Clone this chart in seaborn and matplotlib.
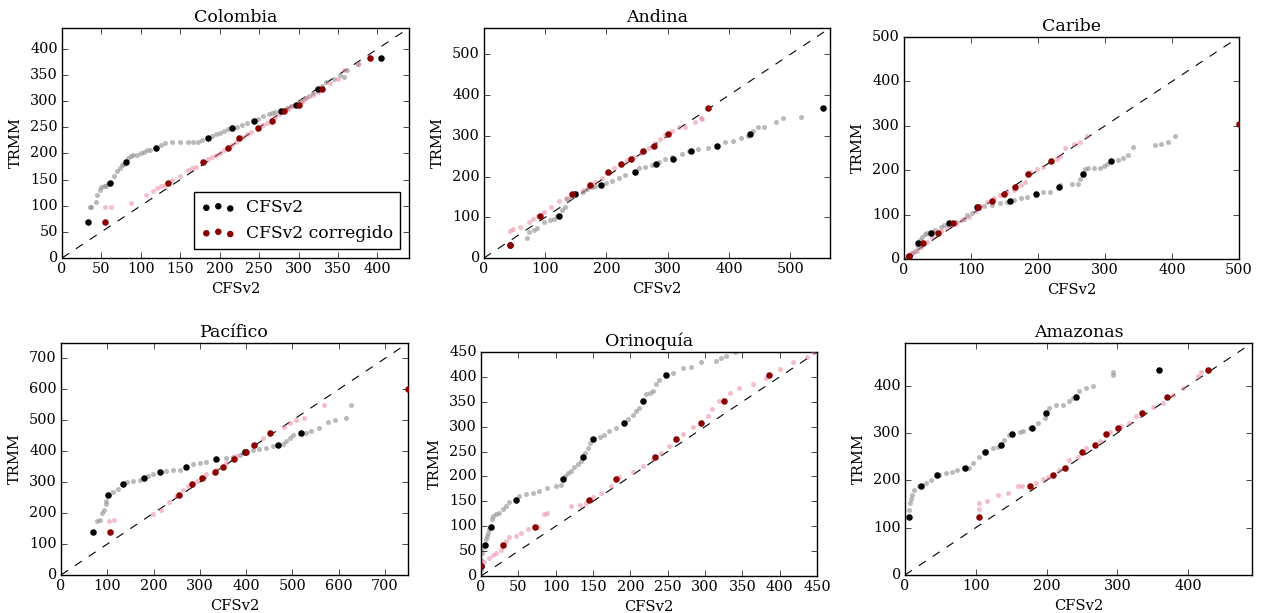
import numpy as np
import matplotlib
matplotlib.use("Agg")
import matplotlib.pyplot as plt
import seaborn as sns

# ---------------- data ----------------
regions = ["Colombia", "Andina", "Caribe", "Pacífico", "Orinoquía", "Amazonas"]

# Colombia
col_gray_x = [35, 37, 43, 45, 48, 50, 53, 56, 58, 66, 70, 74, 76, 78, 84, 88, 90, 95, 100, 104, 108, 112, 126, 131, 140, 150, 160, 166, 172, 178, 190, 195, 200, 205, 210, 222, 228, 235, 248, 255, 262, 266, 270, 285, 290, 303, 308, 313, 318, 330, 335, 345, 352, 357, 362, 375]
col_gray_y = [97, 97, 107, 120, 130, 135, 137, 138, 141, 157, 167, 173, 178, 180, 192, 196, 197, 198, 200, 203, 206, 207, 217, 220, 221, 221, 221, 221, 222, 226, 234, 237, 240, 243, 247, 251, 254, 258, 266, 272, 276, 278, 280, 287, 290, 300, 306, 310, 315, 330, 337, 343, 350, 347, 360, 371]
col_pink_x = [55, 62, 88, 107, 115, 120, 125, 130, 140, 150, 160, 165, 170, 185, 190, 195, 200, 205, 215, 220, 230, 235, 240, 255, 260, 270, 275, 286, 292, 305, 310, 318, 324, 340, 350, 358, 375]
col_pink_y = [97, 97, 106, 120, 128, 134, 137, 140, 150, 157, 168, 172, 175, 189, 193, 198, 201, 206, 217, 222, 232, 238, 242, 254, 258, 270, 276, 285, 290, 300, 306, 312, 318, 335, 343, 360, 371]
col_dec_trmm = [69, 144, 183, 210, 229, 249, 263, 281, 293, 324, 382]
col_dec_cfs = [33, 61, 81, 119, 185, 215, 243, 278, 297, 325, 404]
col_dec_corr = [55, 134, 179, 210, 225, 249, 266, 281, 300, 330, 390]

# Andina
and_gray_x = [70, 74, 82, 86, 98, 108, 115, 119, 127, 132, 136, 142, 150, 161, 169, 177, 182, 199, 209, 220, 231, 253, 263, 274, 285, 296, 307, 323, 334, 350, 366, 393, 407, 420, 431, 439, 448, 458, 477, 488, 518]
and_gray_y = [49, 64, 70, 74, 88, 93, 95, 103, 117, 126, 144, 150, 156, 163, 169, 174, 177, 185, 189, 197, 204, 220, 224, 229, 237, 243, 247, 255, 263, 267, 269, 284, 288, 295, 300, 312, 321, 323, 335, 343, 347]
and_pink_x = [42, 47, 58, 74, 80, 88, 98, 109, 123, 134, 150, 161, 172, 182, 193, 201, 212, 223, 234, 245, 256, 269, 280, 288, 296, 307, 318, 328, 344, 355, 356]
and_pink_y = [66, 72, 76, 88, 95, 103, 113, 126, 140, 148, 160, 167, 177, 187, 197, 210, 222, 230, 240, 249, 259, 269, 282, 292, 302, 312, 321, 322, 335, 345, 341]
and_dec_trmm = [33, 104, 156, 180, 211, 232, 244, 262, 276, 304, 368]
and_dec_cfs = [43, 123, 149, 191, 246, 281, 308, 338, 380, 434, 554]
and_dec_corr = [43, 92, 143, 173, 203, 223, 240, 259, 277, 300, 365]

# Caribe
car_gray_x = [12, 17, 21, 24, 27, 31, 35, 47, 55, 60, 77, 89, 94, 102, 112, 119, 131, 144, 154, 164, 174, 184, 208, 218, 233, 250, 259, 263, 270, 275, 283, 293, 298, 303, 320, 327, 335, 342, 374, 384, 394, 404]
car_gray_y = [13, 19, 28, 42, 50, 56, 59, 65, 71, 77, 84, 90, 99, 104, 114, 120, 121, 126, 129, 134, 138, 140, 151, 152, 166, 168, 169, 181, 203, 204, 204, 206, 210, 214, 224, 227, 235, 252, 256, 260, 264, 276]
car_pink_x = [5, 12, 19, 25, 35, 42, 55, 64, 77, 87, 97, 107, 114, 124, 134, 144, 154, 164, 174, 181, 188, 198, 208, 228, 233, 240, 253, 263, 273]
car_pink_y = [6, 13, 19, 28, 39, 50, 62, 69, 78, 88, 95, 108, 120, 129, 137, 145, 151, 156, 166, 173, 195, 203, 208, 225, 233, 251, 259, 264, 277]
car_dec_trmm = [7, 37, 59, 82, 116, 130, 146, 162, 192, 221, 303]
car_dec_cfs = [7, 21, 41, 67, 109, 158, 197, 231, 267, 309, 560]
car_dec_corr = [7, 29, 51, 73, 110, 131, 149, 166, 185, 220, 500]

# Pacífico
pac_gray_x = [78, 84, 88, 93, 97, 98, 113, 124, 142, 156, 170, 188, 199, 228, 242, 257, 285, 300, 314, 357, 372, 386, 396, 415, 429, 443, 458, 479, 487, 494, 501, 530, 540, 558, 577, 593, 616, 627]
pac_gray_y = [175, 179, 200, 211, 229, 238, 267, 279, 300, 304, 306, 319, 328, 335, 339, 341, 359, 362, 366, 379, 382, 387, 400, 404, 406, 409, 417, 422, 433, 444, 452, 460, 465, 476, 496, 500, 506, 550]
pac_pink_x = [104, 114, 199, 217, 234, 249, 264, 275, 293, 314, 336, 357, 379, 393, 415, 436, 454, 483, 494, 508, 526, 569]
pac_pink_y = [175, 179, 198, 211, 235, 254, 276, 289, 303, 325, 341, 362, 384, 395, 417, 444, 460, 479, 492, 500, 506, 550]
pac_dec_trmm = [138, 258, 294, 313, 333, 350, 374, 399, 421, 458, 600]
pac_dec_cfs = [70, 102, 134, 180, 215, 271, 336, 398, 469, 519, 800]
pac_dec_corr = [106, 254, 284, 305, 332, 350, 374, 400, 417, 451, 750]

# Orinoquía
ori_gray_x = [0, 0.5, 1.3, 2, 6.7, 8, 9.4, 11, 14.7, 16.5, 20, 24.6, 29, 33.5, 38, 51, 60, 69, 78, 89, 100, 107, 112, 116, 121, 125, 130, 134, 139, 143, 146, 159, 165, 172, 181, 197, 203, 208, 212, 221, 226, 230, 235, 238, 257, 270, 281, 295, 315, 322, 328, 340]
ori_gray_y = [13, 33, 47, 57, 74, 80, 87, 94, 114, 120, 124, 127, 134, 141, 149, 161, 164, 167, 171, 177, 181, 182, 201, 206, 211, 218, 224, 231, 248, 258, 268, 280, 283, 291, 298, 315, 323, 331, 338, 365, 368, 372, 385, 394, 408, 417, 419, 429, 432, 438, 442, 450]
ori_pink_x = [4.5, 11, 15.6, 20, 27, 33.5, 38, 47, 53.6, 62.5, 76, 85, 89, 121, 132, 141, 150, 161, 174, 185, 203, 217, 230, 241, 252, 270, 284, 304, 310, 319, 333, 346, 364, 382, 400, 418, 436, 445]
ori_pink_y = [28, 37, 41.5, 45.5, 52, 70, 79, 80, 87, 94, 99, 124, 127, 141, 142, 147, 159, 167, 181, 198, 208, 221, 236, 248, 261, 285, 300, 321, 335, 352, 368, 378, 385, 398, 415, 429, 439, 449]
ori_dec_trmm = [21, 62, 99, 152, 194, 239, 275, 308, 352, 404, 490]
ori_dec_cfs = [0, 5, 13, 47, 110, 136, 150, 191, 217, 248, 420]
ori_dec_corr = [0, 30, 72, 144, 181, 233, 261, 294, 325, 386, 480]

# Amazonas
ama_gray_x = [6, 7, 8.5, 10, 13, 20, 30, 37, 48, 58, 67, 74, 91, 96, 105, 114, 124, 131, 140, 147, 162, 166, 176, 188, 197, 204, 213, 223, 232, 237, 246, 256, 265, 294, 294]
ama_gray_y = [138, 153, 160, 169, 180, 187, 194, 201, 212, 215, 217, 222, 226, 236, 250, 261, 268, 270, 286, 296, 303, 305, 310, 321, 332, 353, 360, 360, 367, 374, 388, 394, 400, 423, 428]
ama_pink_x = [105, 105, 116, 132, 146, 159, 165, 185, 195, 202, 218, 232, 244, 256, 275, 289, 305, 317, 326, 350, 364, 378, 392, 414, 418]
ama_pink_y = [139, 152, 157, 168, 173, 187, 188, 194, 202, 207, 222, 243, 250, 268, 282, 301, 314, 321, 335, 354, 363, 381, 395, 420, 428]
ama_dec_trmm = [122, 188, 211, 225, 260, 275, 298, 310, 342, 377, 432]
ama_dec_cfs = [5, 23, 45, 85, 113, 136, 151, 179, 199, 242, 358]
ama_dec_corr = [105, 176, 209, 226, 250, 268, 284, 301, 334, 370, 428]

limits = [440, 565, 500, 750, 450, 490]
tick_steps = [50, 100, 100, 100, 50, 100]

series = [
    (col_gray_x, col_gray_y, col_pink_x, col_pink_y, col_dec_cfs, col_dec_corr, col_dec_trmm),
    (and_gray_x, and_gray_y, and_pink_x, and_pink_y, and_dec_cfs, and_dec_corr, and_dec_trmm),
    (car_gray_x, car_gray_y, car_pink_x, car_pink_y, car_dec_cfs, car_dec_corr, car_dec_trmm),
    (pac_gray_x, pac_gray_y, pac_pink_x, pac_pink_y, pac_dec_cfs, pac_dec_corr, pac_dec_trmm),
    (ori_gray_x, ori_gray_y, ori_pink_x, ori_pink_y, ori_dec_cfs, ori_dec_corr, ori_dec_trmm),
    (ama_gray_x, ama_gray_y, ama_pink_x, ama_pink_y, ama_dec_cfs, ama_dec_corr, ama_dec_trmm),
]

# ---------------- layout (pixel boxes: left, top, right, bottom) ----------------
W, H = 1262, 613
boxes = [
    (62, 28, 409, 258),
    (484, 28, 830, 258),
    (904, 37, 1239, 259),
    (61, 343, 408, 575),
    (481, 352, 817, 576),
    (905, 343, 1252, 575),
]

plt.style.use("classic")
plt.rcParams.update({
    "font.family": "serif",
    "font.serif": ["DejaVu Serif"],
    "figure.facecolor": "white",
    "savefig.facecolor": "white",
    "axes.facecolor": "white",
    "xtick.labelsize": 10.4,
    "ytick.labelsize": 10.4,
    "axes.labelsize": 10.6,
    "axes.titlesize": 12.5,
    "mathtext.fontset": "dejavuserif",
})

fig = plt.figure(figsize=(W / 100, H / 100), dpi=100)

gray_c = "#8c8c8c"
pink_c = "#e8708a"

for i, name in enumerate(regions):
    l, t, r, b = boxes[i]
    ax = fig.add_axes([l / W, 1 - b / H, (r - l) / W, (b - t) / H])
    gx, gy, px, py, dcfs, dcor, dtr = series[i]
    lim = limits[i]
    ax.axline((0, 0), slope=1, color="black", linestyle="--", linewidth=0.8, dashes=(6, 6), zorder=1)
    sns.scatterplot(x=gx, y=gy, ax=ax, color=gray_c, alpha=0.6, s=13, linewidth=0, zorder=2)
    sns.scatterplot(x=px, y=py, ax=ax, color=pink_c, alpha=0.45, s=13, linewidth=0, zorder=3)
    sns.scatterplot(x=dcfs, y=dtr, ax=ax, color="black", s=22, linewidth=0, zorder=4, label="CFSv2")
    sns.scatterplot(x=dcor, y=dtr, ax=ax, color="darkred", s=22, linewidth=0, zorder=5, label="CFSv2 corregido")
    ax.set_xlim(0, lim)
    ax.set_ylim(0, lim)
    step = tick_steps[i]
    ticks = np.arange(0, lim + 1, step)
    ax.set_xticks(ticks)
    ax.set_yticks(ticks)
    ax.set_xlabel("CFSv2", labelpad=4)
    ax.set_ylabel("TRMM", labelpad=5)
    ax.set_title(name, pad=4.5)
    ax.tick_params(direction="in", top=True, right=True, length=4, pad=3)
    if i == 0:
        ax.legend(loc="lower right", fontsize=12.3, scatterpoints=3, frameon=True,
                  fancybox=False, borderaxespad=0.5, handletextpad=0.6, borderpad=0.45)
    else:
        lg = ax.get_legend()
        if lg is not None:
            lg.remove()

fig.savefig("out.png", dpi=100)
